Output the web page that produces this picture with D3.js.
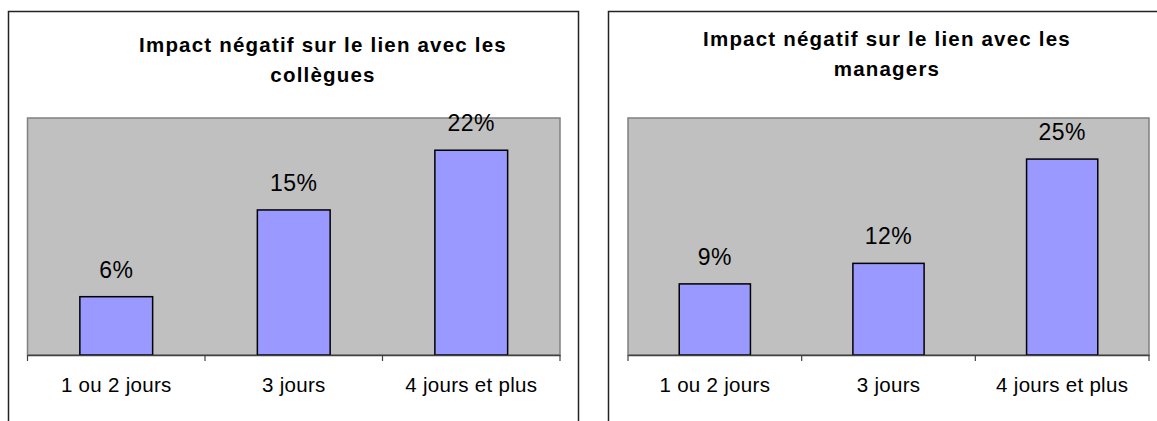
<!DOCTYPE html>
<html>
<head>
<meta charset="utf-8">
<script src="https://cdn.jsdelivr.net/npm/d3@7"></script>
<style>
  body { margin: 0; background: #fff; }
  svg { display: block; font-family: "Liberation Sans", Arial, sans-serif; }
</style>
</head>
<body>
<svg width="1157" height="421"></svg>
<script>
// data
var categories = ["1 ou 2 jours", "3 jours", "4 jours et plus"];
var collegues = [0.0615, 0.153, 0.216];
var managers = [0.09, 0.116, 0.248];
var titleCollegues = ["Impact négatif sur le lien avec les", "collègues"];
var titleManagers = ["Impact négatif sur le lien avec les", "managers"];

var svg = d3.select("svg");

function drawPanel(opt) {
    var g = svg.append("g");

    // outer frame (bottom and right run off the picture)
    g.append("rect")
        .attr("x", opt.box[0] + 0.5).attr("y", opt.box[1] + 0.5)
        .attr("width", opt.box[2]).attr("height", 500)
        .attr("fill", "#fff")
        .attr("stroke", "#222")
        .attr("stroke-width", 1.5);

    var x = d3.scaleBand()
        .domain(categories)
        .range([opt.plot[0], opt.plot[1]])
        .paddingInner(0.59)
        .paddingOuter(0.295);

    var y = d3.scaleLinear()
        .domain([0, opt.max])
        .range([opt.plot[3], opt.plot[2]]);

    // plot area
    g.append("rect")
        .attr("x", opt.plot[0]).attr("y", opt.plot[2])
        .attr("width", opt.plot[1] - opt.plot[0])
        .attr("height", opt.plot[3] - opt.plot[2])
        .attr("fill", "#c0c0c0")
        .attr("stroke", "#808080")
        .attr("stroke-width", 1.5);

    // title
    var t = g.append("text")
        .attr("text-anchor", "middle")
        .attr("font-size", 20.5)
        .attr("font-weight", "bold")
        .attr("letter-spacing", 1.2)
        .attr("fill", "#000");
    opt.title.forEach(function (line, i) {
        t.append("tspan")
            .attr("x", opt.titleX)
            .attr("y", opt.titleY + i * 30)
            .text(line);
    });

    // bars
    g.selectAll("rect.bar")
        .data(opt.values)
        .enter().append("rect")
        .attr("class", "bar")
        .attr("x", (d, i) => x(categories[i]))
        .attr("y", d => y(d))
        .attr("width", x.bandwidth())
        .attr("height", d => y(0) - y(d))
        .attr("fill", "#9999ff")
        .attr("stroke", "#000")
        .attr("stroke-width", 1.5);

    // value labels
    g.selectAll("text.val")
        .data(opt.values)
        .enter().append("text")
        .attr("class", "val")
        .attr("x", (d, i) => x(categories[i]) + x.bandwidth() / 2)
        .attr("y", d => y(d) - 19)
        .attr("text-anchor", "middle")
        .attr("font-size", 23)
        .attr("letter-spacing", 0.5)
        .attr("fill", "#000")
        .text(d => d3.format(".0%")(d));

    // category axis, ticks between categories
    var axis = g.append("g")
        .attr("transform", "translate(0," + y(0) + ")")
        .call(d3.axisBottom(x).tickSize(0).tickPadding(22));
    axis.select(".domain")
        .attr("stroke", "#404040")
        .attr("stroke-width", 1.5);
    axis.selectAll("text")
        .attr("font-size", 20.5)
        .attr("letter-spacing", 0.3)
        .attr("font-family", "Liberation Sans, Arial, sans-serif")
        .attr("fill", "#000");

    var step = x.step();
    var bounds = d3.range(categories.length + 1).map(i => opt.plot[0] + i * step);
    axis.selectAll("line.sep")
        .data(bounds)
        .enter().append("line")
        .attr("class", "sep")
        .attr("x1", d => d).attr("x2", d => d)
        .attr("y1", 0).attr("y2", 6)
        .attr("stroke", "#404040")
        .attr("stroke-width", 1.2);
}

drawPanel({
    box: [8, 11, 570],
    plot: [27.5, 560, 118, 355],
    max: 0.25,
    values: collegues,
    title: titleCollegues,
    titleX: 323,
    titleY: 51.7
});

drawPanel({
    box: [608, 11, 600],
    plot: [628, 1149, 118, 355],
    max: 0.30,
    values: managers,
    title: titleManagers,
    titleX: 887,
    titleY: 46
});
</script>
</body>
</html>
